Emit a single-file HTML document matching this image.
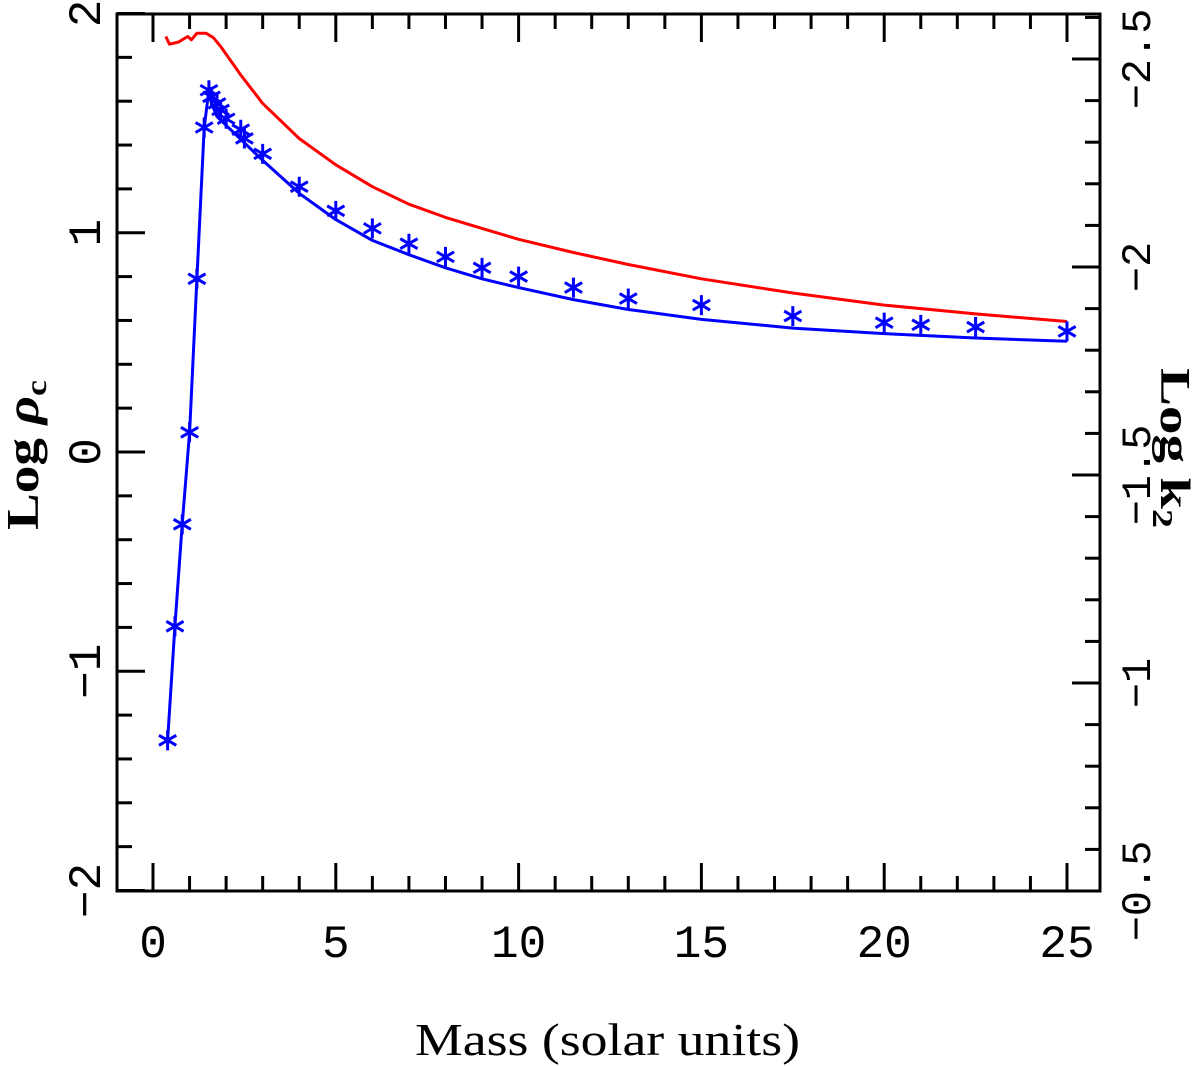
<!DOCTYPE html>
<html><head><meta charset="utf-8"><style>
html,body{margin:0;padding:0;background:#fff}
svg{display:block}
text{font-family:"Liberation Mono","DejaVu Sans Mono",monospace;fill:#000}
</style></head><body>
<svg id="chart" width="1200" height="1066" viewBox="0 0 1200 1066" xmlns="http://www.w3.org/2000/svg">
<g id="ticks"></g>
<rect x="117" y="14" width="983" height="877" fill="none" stroke="#000" stroke-width="3"/>
<g id="series"></g>
<g id="labels"></g>
<text x="415" y="1055" style="font-family:'Liberation Serif',serif" font-size="46" textLength="385" lengthAdjust="spacingAndGlyphs">Mass (solar units)</text>
<text transform="translate(38,455) rotate(-90)" text-anchor="middle" style="font-family:'Liberation Serif',serif;font-weight:bold" font-size="46" textLength="150" lengthAdjust="spacingAndGlyphs">Log <tspan font-style="italic">ρ</tspan><tspan font-size="30" dy="8">c</tspan></text>
<text transform="translate(1161,448) rotate(90)" text-anchor="middle" style="font-family:'Liberation Serif',serif;font-weight:bold" font-size="42" textLength="160" lengthAdjust="spacingAndGlyphs">Log k<tspan font-size="28" dy="8">2</tspan></text>
</svg>
<script>
const blueStarMass=[0.4,0.6,0.8,1.0,1.2,1.4,1.53,1.6,1.75,1.85,2.0,2.4,2.5,3,4,5,6,7,8,9,10,11.5,13,15,17.5,20,21,22.5,25];
const blueStarVal=[-1.315,-0.795,-0.33,0.09,0.79,1.48,1.65,1.62,1.59,1.56,1.52,1.47,1.43,1.36,1.21,1.10,1.02,0.95,0.89,0.84,0.80,0.75,0.70,0.67,0.62,0.59,0.58,0.57,0.55];
const blueLineMass=[0.4,0.6,0.8,1.0,1.2,1.4,1.53,1.6,1.75,2.0,3,4,5,6,7,8,9,10,11.5,13,15,17.5,20,22.5,25];
const blueLineVal=[-1.315,-0.795,-0.33,0.09,0.79,1.48,1.65,1.59,1.53,1.49,1.33,1.18,1.06,0.965,0.9,0.84,0.79,0.75,0.695,0.65,0.605,0.565,0.54,0.52,0.505];
const redMass=[0.35,0.45,0.7,0.95,1.05,1.2,1.45,1.65,1.85,2.4,3,4,5,6,7,8,9,10,11.5,13,15,17.5,20,22.5,25];
const redVal=[1.895,1.86,1.87,1.895,1.88,1.91,1.91,1.89,1.85,1.72,1.59,1.43,1.31,1.21,1.13,1.07,1.02,0.97,0.91,0.855,0.79,0.725,0.67,0.63,0.595];
const xTicks=[0,5,10,15,20,25];
const yTicks=[2,1,0,-1,-2];
const y2Ticks=[-2.5,-2,-1.5,-1,-0.5];
const xTickLabels=["0","5","10","15","20","25"];
const yTickLabels=["2","1","0","\u22121","\u22122"];
const y2TickLabels=["\u22122.5","\u22122","\u22121.5","\u22121","\u22120.5"];

const X=m=>153+m*36.56;
const Y=v=>452-v*219.25;
const Y2=v=>891-(v+0.5)*(-416);
const NS='http://www.w3.org/2000/svg';
function mk(tag,attrs,parent){const e=document.createElementNS(NS,tag);for(const k in attrs)e.setAttribute(k,attrs[k]);parent.appendChild(e);return e;}
const tg=document.getElementById('ticks'),sg=document.getElementById('series'),lg=document.getElementById('labels');
for(let m=0;m<=26;m++){const x=X(m);if(x>1098)break;const L=m%5===0?28:15;
 const t1=mk('line',{x1:x,y1:891,x2:x,y2:891-L,stroke:'#000','stroke-width':3},tg);
 
 
 const t2=mk('line',{x1:x,y1:14,x2:x,y2:14+L,stroke:'#000','stroke-width':3},tg);
 
 }
for(let i=0;i<=20;i++){const v=2-i*0.2;const y=Y(v);const L=i%5===0?28:15;
 const t=mk('line',{x1:117,y1:y,x2:117+L,y2:y,stroke:'#000','stroke-width':3},tg);
 
 }
for(let i=0;i<=21;i++){const v=-0.5-i*0.1;const y=Y2(v);if(y<16)break;const L=i%5===0?28:15;
 const t=mk('line',{x1:1100,y1:y,x2:1100-L,y2:y,stroke:'#000','stroke-width':3},tg);
 
 }
xTicks.forEach((m,i)=>{const t=mk('text',{x:X(m),y:957,'text-anchor':'middle','font-size':46},lg);t.textContent=xTickLabels[i];
 
 });
yTicks.forEach((v,i)=>{const t=mk('text',{transform:`translate(100,${Y(v)}) rotate(-90)`,'text-anchor':'middle','font-size':46},lg);t.textContent=yTickLabels[i];
 
 });
y2Ticks.forEach((v,i)=>{const t=mk('text',{transform:`translate(1150,${Y2(v)}) rotate(-90)`,'text-anchor':'middle','font-size':42},lg);t.textContent=y2TickLabels[i];
 
 });
function pts(ms,vs){return ms.map((m,i)=>X(m).toFixed(1)+','+Y(vs[i]).toFixed(1)).join(' ');}
const red=mk('polyline',{points:pts(redMass,redVal),fill:'none',stroke:'#f00','stroke-width':3,'stroke-linejoin':'round'},sg);


const blue=mk('polyline',{points:pts(blueLineMass,blueLineVal),fill:'none',stroke:'#00f','stroke-width':3,'stroke-linejoin':'round'},sg);


blueStarMass.forEach((m,i)=>{const cx=X(m),cy=Y(blueStarVal[i]);const r=10;
 let d=`M${cx},${cy-r}L${cx},${cy+r}`;
 const dx=r*0.866,dy=r*0.5;
 d+=`M${cx-dx},${cy-dy}L${cx+dx},${cy+dy}M${cx-dx},${cy+dy}L${cx+dx},${cy-dy}`;
 const p=mk('path',{d:d,stroke:'#00f','stroke-width':3,fill:'none'},sg);
 
 });
</script>
</body></html>
